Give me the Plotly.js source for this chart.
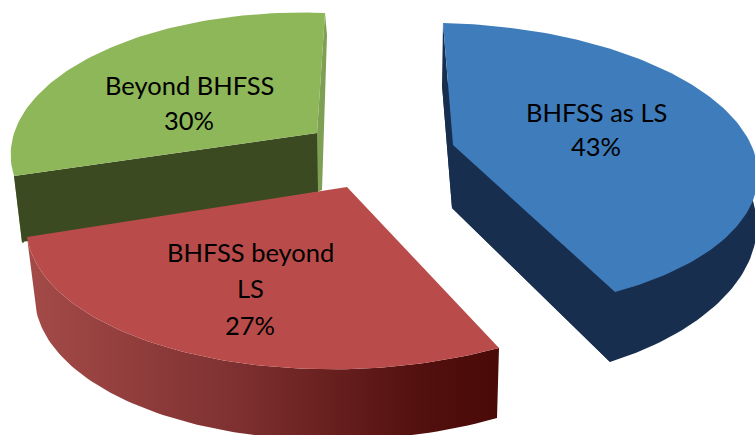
<!DOCTYPE html>
<html><head><meta charset="utf-8">
<script src="https://cdn.plot.ly/plotly-3.0.1.min.js"></script>
<style>html,body{margin:0;padding:0;background:#fff}#c{width:755px;height:435px}</style>
</head><body><div id="c"></div>
<script>
const categories = ['BHFSS as LS', 'BHFSS beyond LS', 'Beyond BHFSS'];
const shares = [43, 27, 30];

// Layout of each exploded wedge on the canvas: apex, the two rim ends, a rim point (top face, then bottom face)
const blueTop  = {a:[453,145], s:[443,23],  e:[615,292], m:[734,119]};
const blueBot  = {a:[452,208], s:[442,85],  e:[610,362], m:[727,159]};
const redTop   = {a:[347,187], s:[499,348], e:[27,237],  m:[180,351]};
const redBot   = {a:[349,255], s:[497,418], e:[35,303],  m:[183,421]};
const greenTop = {a:[317,133], s:[14,176],  e:[325,13],  m:[101,52]};

// Rim of a wedge: a projected circular arc whose sweep comes from the wedge's share
function rim(w, share, n) {
  const th = share / 100 * 2 * Math.PI, c = Math.sin(th/2) / Math.sin(th);
  const U = [w.s[0]-w.a[0], w.s[1]-w.a[1]], V = [w.e[0]-w.a[0], w.e[1]-w.a[1]];
  const M = [w.m[0]-w.a[0], w.m[1]-w.a[1]];
  const det = U[0]*V[1]-U[1]*V[0];
  const p = (M[0]*V[1]-M[1]*V[0])/det, q = (U[0]*M[1]-U[1]*M[0])/det;
  const D = (1-2*c)/(1-p-q);
  const lam = p*D/c-1, mu = q*D/c-1;
  const pts = [];
  for (let i=0;i<=n;i++) {
    const t = th*i/n, al = Math.sin(th-t)/Math.sin(th), be = Math.sin(t)/Math.sin(th);
    const d = 1+lam*al+mu*be;
    pts.push([w.a[0]+(al*(1+lam)*U[0]+be*(1+mu)*V[0])/d, w.a[1]+(al*(1+lam)*U[1]+be*(1+mu)*V[1])/d]);
  }
  return pts;
}
function poly(pts, color, extra) {
  return Object.assign({type:'scatter', mode:'lines', x:pts.map(p=>p?p[0]:null), y:pts.map(p=>p?p[1]:null),
    fill:'toself', fillcolor:color, line:{width:0, color:color}, hoverinfo:'skip', showlegend:false}, extra||{});
}
const rB = rim(blueTop, shares[0], 120), rBb = rim(blueBot, shares[0], 120);
const rR = rim(redTop, shares[1], 80), rRb = rim(redBot, shares[1], 80);
const rG = rim(greenTop, shares[2], 80);

const traces = [
  // green wedge
  poly([[325,13],[327,35],[322,190],[317,192],[317,133],null,[14,176],[22,243],[24,243],[16,176]], '#7F9F55'),
  poly([greenTop.a,greenTop.s,[22,242],[318,192]], '#3B4A20'),
  poly(rG.concat([greenTop.a]), '#8DB758'),
  // red wedge
  poly(rR.concat(rRb.slice().reverse()), '#7B2E2D', {fillgradient:{type:'horizontal', start:27, stop:497,
    colorscale:[[0,'#A44B49'],[0.45,'#7E3030'],[0.85,'#510F0D'],[1,'#4A0A08']]}}),
  poly(rR.concat([redTop.a]), '#B94C4A'),
  // blue wedge
  poly(rBb.concat([blueBot.a]), '#182E4F'),
  poly([blueTop.a,blueTop.s,blueBot.s,blueBot.a], '#182E4F'),
  poly([blueTop.a,blueTop.e,blueBot.e,blueBot.a], '#182E4F'),
  poly(rB.concat([blueTop.a]), '#3F7CBC')
];
const lab = (text,x,y)=>({text, x, y, xref:'x', yref:'y', showarrow:false, xanchor:'center', yanchor:'middle',
  font:{family:'Lato, Carlito, sans-serif', size:25.5, color:'#000'}});
const annotations = [
  lab(categories[0],596,112), lab(shares[0]+'%',596,146),
  lab('BHFSS beyond',250,252), lab('LS',250,288), lab(shares[1]+'%',250,325),
  lab(categories[2],189,85), lab(shares[2]+'%',189,120)
];
const hidden = {visible:false, fixedrange:true};
Plotly.newPlot('c', traces, {
  width:755, height:435, margin:{l:0,r:0,t:0,b:0}, paper_bgcolor:'#fff', plot_bgcolor:'#fff',
  xaxis:Object.assign({range:[0,755]},hidden), yaxis:Object.assign({range:[435,0]},hidden),
  annotations, showlegend:false
}, {displayModeBar:false, staticPlot:true});
</script></body></html>
